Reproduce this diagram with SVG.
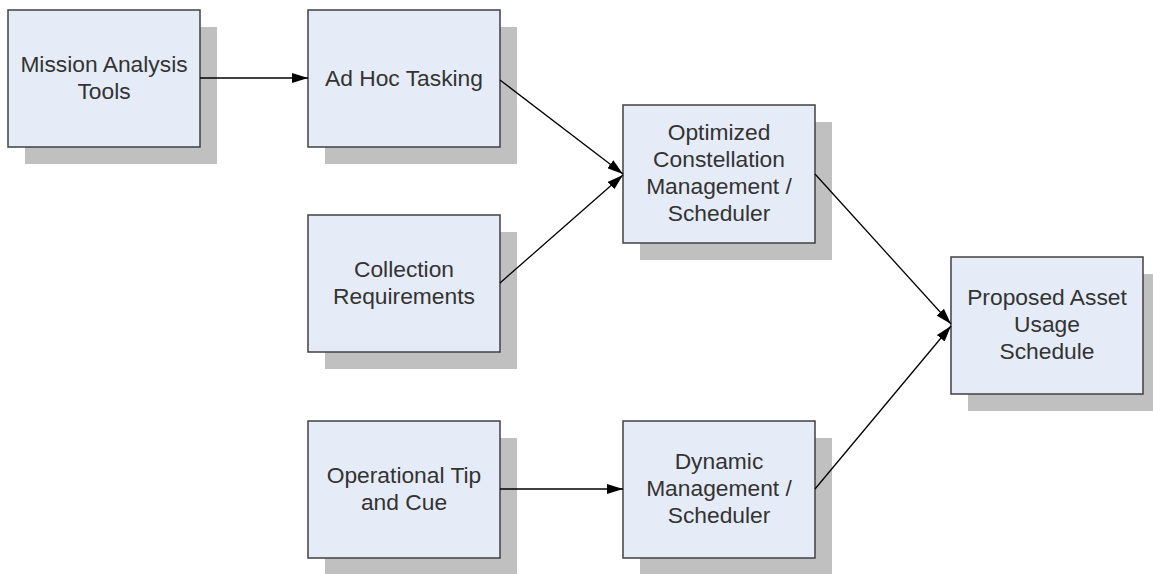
<svg xmlns="http://www.w3.org/2000/svg" width="1153" height="574" viewBox="0 0 1153 574">
<defs>
<style>
.sh{fill:#c0c0c0;stroke:none}
.bx{fill:#e6ecf7;stroke:#404040;stroke-width:1.5}
.t{font-family:"Liberation Sans",Arial,sans-serif;font-size:22.8px;fill:#333333;text-anchor:middle}
.c{stroke:#000;stroke-width:1.3;fill:none;marker-end:url(#ah)}
</style>
<marker id="ah" viewBox="0 0 16 10" refX="16" refY="5" markerWidth="16" markerHeight="10" markerUnits="userSpaceOnUse" orient="auto">
<path d="M0,0 L16,5 L0,10 Z" fill="#000"/>
</marker>
</defs>
<rect width="1153" height="574" fill="#fff"/>
<g id="mission">
<rect class="sh" x="25" y="27" width="192" height="137"/>
<rect class="bx" x="8" y="10" width="192" height="137"/>
<text class="t" x="104" y="72">Mission Analysis</text>
<text class="t" x="104" y="99">Tools</text>
</g>
<g id="adhoc">
<rect class="sh" x="325" y="27" width="192" height="137"/>
<rect class="bx" x="308" y="10" width="192" height="137"/>
<text class="t" x="404" y="86">Ad Hoc Tasking</text>
</g>
<g id="collection">
<rect class="sh" x="325" y="232" width="192" height="137"/>
<rect class="bx" x="308" y="215" width="192" height="137"/>
<text class="t" x="404" y="277">Collection</text>
<text class="t" x="404" y="304">Requirements</text>
</g>
<g id="tipcue">
<rect class="sh" x="325" y="438" width="192" height="137"/>
<rect class="bx" x="308" y="421" width="192" height="137"/>
<text class="t" x="404" y="483">Operational Tip</text>
<text class="t" x="404" y="510">and Cue</text>
</g>
<g id="optimized">
<rect class="sh" x="640" y="122" width="192" height="138"/>
<rect class="bx" x="623" y="105" width="192" height="138"/>
<text class="t" x="719" y="140">Optimized</text>
<text class="t" x="719" y="167">Constellation</text>
<text class="t" x="719" y="194">Management /</text>
<text class="t" x="719" y="221">Scheduler</text>
</g>
<g id="dynamic">
<rect class="sh" x="640" y="438" width="192" height="137"/>
<rect class="bx" x="623" y="421" width="192" height="137"/>
<text class="t" x="719" y="469">Dynamic</text>
<text class="t" x="719" y="496">Management /</text>
<text class="t" x="719" y="523">Scheduler</text>
</g>
<g id="proposed">
<rect class="sh" x="968" y="274" width="192" height="137"/>
<rect class="bx" x="951" y="257" width="192" height="137"/>
<text class="t" x="1047" y="305">Proposed Asset</text>
<text class="t" x="1047" y="332">Usage</text>
<text class="t" x="1047" y="359">Schedule</text>
</g>
<g id="connectors">
<line class="c" x1="200" y1="78" x2="308" y2="78"/>
<line class="c" x1="500" y1="80" x2="623" y2="174"/>
<line class="c" x1="500" y1="283" x2="623" y2="175"/>
<line class="c" x1="815" y1="174" x2="951" y2="324"/>
<line class="c" x1="815" y1="489" x2="951" y2="326"/>
<line class="c" x1="500" y1="489" x2="623" y2="489"/>
</g>
</svg>
